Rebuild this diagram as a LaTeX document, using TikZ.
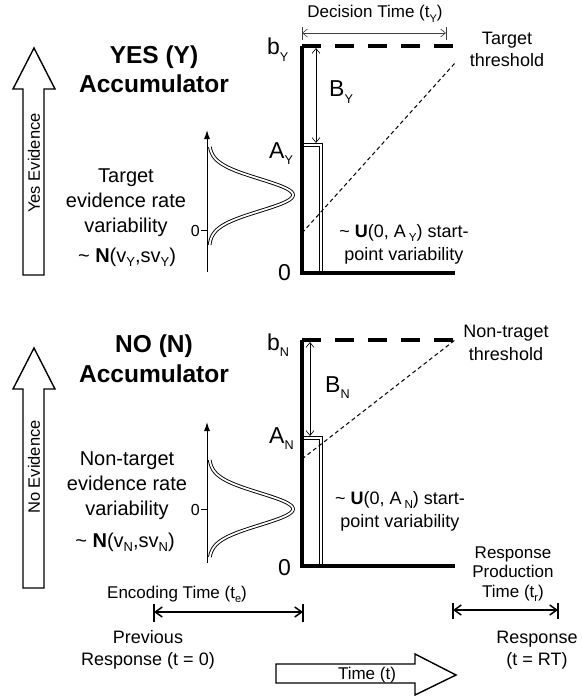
\documentclass[tikz,border=0pt]{standalone}
\usepackage{fontspec}
\setmainfont{Liberation Sans}
\usepackage{graphicx}
\usepackage{tikz}
\usetikzlibrary{arrows.meta}

\newcommand{\lsub}[1]{\raisebox{-0.45ex}{\scalebox{0.65}{#1}}}
\newcommand{\tsub}[1]{\raisebox{-0.5ex}{\scalebox{0.55}{#1}}}
\newcommand{\fsz}[2]{\fontsize{#1}{#2}\selectfont}

\begin{document}
\begin{tikzpicture}[x=1pt,y=-1pt,
	head/.style={font=\fsz{24.5}{29.5}\bfseries, align=center, anchor=base},
	body/.style={font=\fsz{20}{25}, align=center, anchor=base},
	side/.style={font=\fsz{18}{22.5}, align=center, anchor=base},
	tlabel/.style={font=\fsz{17}{20}, align=center, anchor=base},
	big/.style={font=\fsz{23}{23}, anchor=base west, inner sep=0pt},
	bigarrow/.style={line width=1.4pt, line join=miter},
	axisline/.style={line width=3.6pt, line join=miter},
	thresh/.style={line width=3.6pt, dash pattern=on 19pt off 14pt},
	startbar/.style={draw=black, double=white, double distance=1.8pt, line width=0.9pt},
	density/.style={draw=black, double=white, double distance=1.8pt, line width=0.9pt, line join=round},
	ratepath/.style={line width=1pt, dash pattern=on 4pt off 3pt},
	span/.style={{Straight Barb[length=5pt,width=8pt]}-{Straight Barb[length=5pt,width=8pt]}, line width=0.6pt},
	tspan/.style={{Straight Barb[length=7pt,width=10pt]}-{Straight Barb[length=7pt,width=10pt]}, line width=1.5pt}]
	\useasboundingbox (0,0) rectangle (581,698);

	% evidence arrows
	\draw[bigarrow] (23,275) -- (23,89) -- (13,89) -- (34,48) -- (55,89) -- (44,89) -- (44,275) -- cycle;
	\node[rotate=90, font=\fsz{16.5}{16.5}] (yesev) at (34,163) {Yes Evidence};
	\draw[bigarrow] (23,588) -- (23,389) -- (13,389) -- (34,348) -- (55,389) -- (44,389) -- (44,588) -- cycle;
	\node[rotate=90, font=\fsz{16.5}{16.5}] (noev) at (34,467) {No Evidence};

	% YES accumulator
	\node[head] (yeshead) at (154,93) {YES (Y)\\Accumulator};
	\node[body] (yesrate) at (126,232) {Target\\evidence rate\\variability};
	\node[body] (yesdist) at (127,262) {\textasciitilde\ \textbf{N}(v\lsub{Y},sv\lsub{Y})};
	\draw[-{Latex[length=9pt,width=6pt]}, line width=1pt] (207,272) -- (207,130);
	\draw[line width=1pt] (201,230) -- (207,230);
	\node[anchor=east, font=\fsz{16}{16}, inner sep=1pt] (yeszero) at (201,231) {0};
	\draw[density] plot[domain=147:245, samples=90, variable=\t] ({209+84*exp(-0.5*((\t-195)/16)^2)}, \t);

	\coordinate (ytop) at (302,46);
	\coordinate (ybot) at (302,273);
	\coordinate (yend) at (455,273);
	\coordinate (ythr) at (455,46);
	\draw[startbar] (303,145) -- (321,145) -- (321,272);
	\draw[axisline] (ytop) -- (ybot) -- (yend);
	\draw[thresh] (ytop) -- (ythr);
	\draw[ratepath] (302,233) -- (455,63);
	\draw[span] (316,48) -- (316,143);

	\node[big] (by) at (267,55) {b\tsub{Y}};
	\node[big] (ay) at (269,158) {A\tsub{Y}};
	\node[big] (zy) at (278,280) {0};
	\node[big] (bby) at (329,97) {B\tsub{Y}};

	\coordinate (dtl) at (302,33);
	\coordinate (dtr) at (446,33);
	\draw[span, black!75] (dtl) -- (dtr);
	\draw[line width=0.6pt, black!75] (302,27) -- (302,40) (446,27) -- (446,40);
	\node[tlabel] (dtime) at (375,18) {Decision Time (t\lsub{Y})};
	\node[side] (ythrlab) at (507,67) {Target\\threshold};
	\node[side] (ystart) at (404,260) {\textasciitilde\ \textbf{U}(0, A\,\lsub{Y}) start-\\point variability};

	% NO accumulator
	\node[head] (nohead) at (154,382) {NO (N)\\Accumulator};
	\node[body] (norate) at (127,515) {Non-target\\evidence rate\\variability};
	\node[body] (nodist) at (125,547) {\textasciitilde\ \textbf{N}(v\lsub{N},sv\lsub{N})};
	\draw[-{Latex[length=9pt,width=6pt]}, line width=1pt] (207,563) -- (207,422);
	\draw[line width=1pt] (201,509) -- (207,509);
	\node[anchor=east, font=\fsz{16}{16}, inner sep=1pt] (nozero) at (201,510) {0};
	\draw[density] plot[domain=460:557, samples=90, variable=\t] ({209+84*exp(-0.5*((\t-509)/16)^2)}, \t);

	\coordinate (ntop) at (302,340);
	\coordinate (nbot) at (302,566);
	\coordinate (nend) at (455,566);
	\coordinate (nthr) at (455,340);
	\draw[startbar] (303,438) -- (321,438) -- (321,565);
	\draw[axisline] (ntop) -- (nbot) -- (nend);
	\draw[thresh] (ntop) -- (nthr);
	\draw[ratepath] (302,459) -- (455,340);
	\draw[span] (310,342) -- (310,436);

	\node[big] (bn) at (267,350) {b\tsub{N}};
	\node[big] (an) at (269,443) {A\tsub{N}};
	\node[big] (zn) at (278,575) {0};
	\node[big] (bbn) at (325,392) {B\tsub{N}};

	\node[side] (nthrlab) at (506,360) {Non-traget\\threshold};
	\node[side] (nstart) at (400,527) {\textasciitilde\ \textbf{U}(0, A\,\lsub{N}) start-\\point variability};

	% time line
	\coordinate (encl) at (154,612);
	\coordinate (encr) at (303,612);
	\draw[tspan] (encl) -- (encr);
	\draw[line width=1.5pt] (154,604) -- (154,622) (303,604) -- (303,622);
	\node[tlabel] (enclab) at (177,598) {Encoding Time (t\lsub{e})};
	\node[side, font=\fsz{18}{22}] (prev) at (148,665) {Previous\\Response (t = 0)};

	\coordinate (rptl) at (453,610);
	\coordinate (rptr) at (558,610);
	\draw[tspan] (rptl) -- (rptr);
	\draw[line width=1.5pt] (453,603) -- (453,619) (558,603) -- (558,619);
	\node[tlabel, font=\fsz{17}{19.5}] (rptlab) at (513,597) {Response\\Production\\Time (t\lsub{r})};
	\node[side, font=\fsz{18}{22}] (resp) at (537,665) {Response\\(t = RT)};

	\draw[bigarrow] (276,664) -- (415,664) -- (415,654) -- (456,675) -- (415,695) -- (415,683) -- (276,683) -- cycle;
	\node[tlabel] (timelab) at (367,679) {Time (t)};
\end{tikzpicture}
\end{document}
